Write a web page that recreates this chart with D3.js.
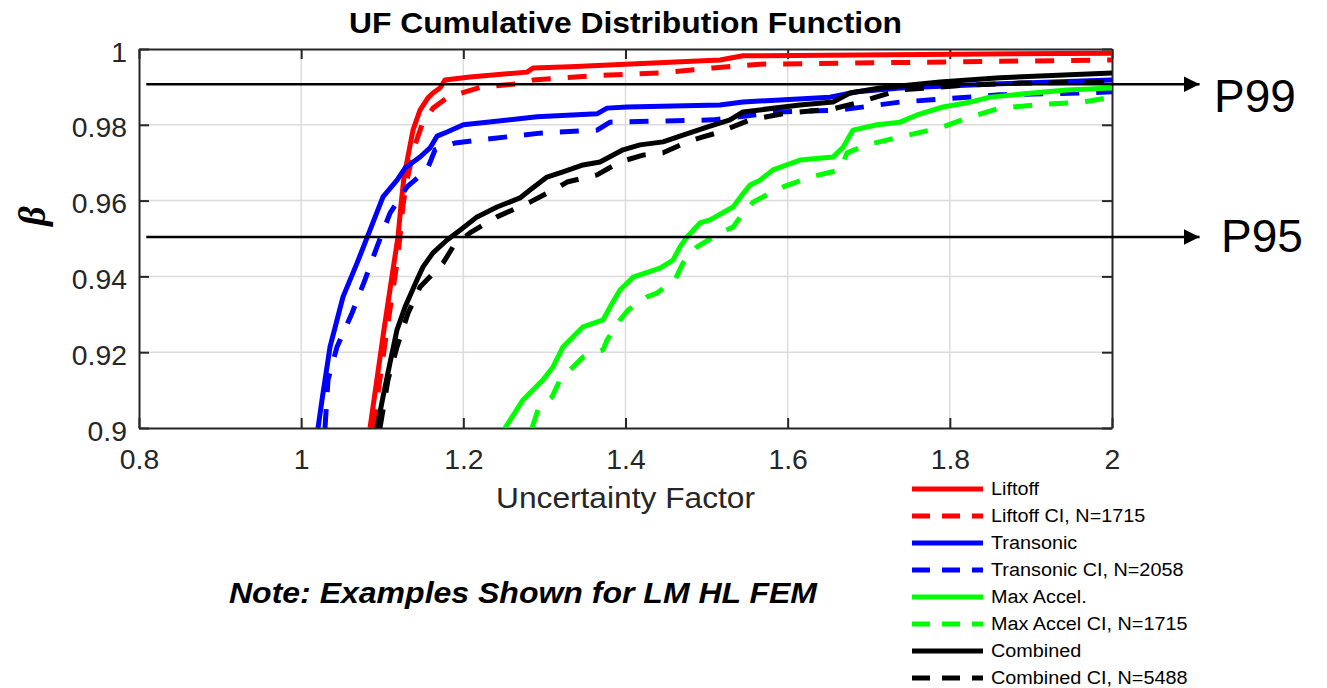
<!DOCTYPE html>
<html>
<head>
<meta charset="utf-8">
<script src="https://cdn.jsdelivr.net/npm/d3@7"></script>
<style>
  html, body { margin: 0; padding: 0; background: #fff; }
  svg { display: block; font-family: "Liberation Sans", Arial, sans-serif; }
</style>
</head>
<body>
<svg id="chart" width="1327" height="688"></svg>
<script>
// Axis ticks
const xTicks = [0.8, 1, 1.2, 1.4, 1.6, 1.8, 2];
const xTickLabels = ["0.8", "1", "1.2", "1.4", "1.6", "1.8", "2"];
const yTicks = [0.9, 0.92, 0.94, 0.96, 0.98, 1];
const yTickLabels = ["0.9", "0.92", "0.94", "0.96", "0.98", "1"];

// Empirical CDF curves: [uncertainty factor, beta]
const liftoff = [[1.0849,0.9],[1.1021,0.9259],[1.1132,0.9417],[1.1194,0.9504],[1.1231,0.9588],[1.1268,0.9662],[1.1379,0.9786],[1.1466,0.9839],[1.1564,0.9871],[1.1626,0.9884],[1.1712,0.9897],[1.1774,0.9918],[1.2082,0.9926],[1.2786,0.9939],[1.2859,0.9950],[1.3316,0.9953],[1.5165,0.9971],[1.5449,0.9982],[2.0,0.9989]];
const liftoffCI = [[1.0886,0.9],[1.1058,0.9259],[1.1169,0.9417],[1.1219,0.9504],[1.1256,0.9588],[1.1305,0.9654],[1.1404,0.9747],[1.1490,0.9800],[1.1626,0.9844],[1.1799,0.9871],[1.1984,0.9884],[1.2231,0.9900],[1.2662,0.9908],[1.2859,0.9918],[1.3562,0.9929],[1.4426,0.9937],[1.5079,0.9950],[1.5659,0.9960],[2.0,0.9971]];
const transonic = [[1.0208,0.9],[1.0257,0.9074],[1.0356,0.9214],[1.0516,0.9346],[1.0689,0.9435],[1.0849,0.9522],[1.1009,0.9610],[1.1182,0.9654],[1.1281,0.9686],[1.1466,0.9715],[1.1589,0.9739],[1.1675,0.9770],[1.1799,0.9781],[1.2,0.9800],[1.2292,0.9807],[1.2909,0.9821],[1.3649,0.9829],[1.3772,0.9844],[1.4019,0.9847],[1.5165,0.9852],[1.5449,0.9860],[1.6522,0.9873],[1.6855,0.9887],[1.7386,0.9897],[1.8619,0.9908],[2.0,0.9918]];
const transonicCI = [[1.0294,0.9],[1.0331,0.9127],[1.0442,0.9214],[1.0627,0.9303],[1.0787,0.9391],[1.0935,0.9478],[1.1096,0.9567],[1.1305,0.9636],[1.1552,0.9681],[1.1651,0.9734],[1.1897,0.9752],[1.2329,0.9763],[1.2946,0.9778],[1.3649,0.9786],[1.3710,0.9794],[1.3809,0.9807],[1.5079,0.9813],[1.5906,0.9834],[1.6646,0.9839],[1.7386,0.9860],[1.8619,0.9879],[1.9606,0.9884],[2.0,0.9887]];
const maxAccel = [[1.2514,0.9],[1.2736,0.9074],[1.2983,0.9127],[1.3106,0.9161],[1.3229,0.9214],[1.3476,0.9267],[1.3723,0.9285],[1.3809,0.9319],[1.3932,0.9364],[1.4093,0.9398],[1.4426,0.9422],[1.4586,0.9443],[1.4672,0.9478],[1.4759,0.9504],[1.4919,0.9541],[1.5042,0.9549],[1.5326,0.9583],[1.5437,0.9615],[1.5536,0.9641],[1.5659,0.9654],[1.5819,0.9681],[1.6152,0.9707],[1.6559,0.9715],[1.6683,0.9741],[1.6806,0.9786],[1.7102,0.9800],[1.7386,0.9807],[1.7595,0.9826],[1.7916,0.9847],[1.8212,0.9858],[1.8496,0.9873],[1.9026,0.9884],[1.9445,0.9892],[2.0,0.9897]];
const maxAccelCI = [[1.2847,0.9],[1.2921,0.9048],[1.3094,0.9082],[1.3192,0.9127],[1.3353,0.9161],[1.3476,0.9187],[1.3723,0.9206],[1.3772,0.9232],[1.3932,0.9285],[1.4031,0.9311],[1.4265,0.9346],[1.4389,0.9356],[1.4611,0.9391],[1.4709,0.9435],[1.4882,0.9478],[1.5165,0.9515],[1.5326,0.9530],[1.5449,0.9567],[1.5573,0.9596],[1.5782,0.9620],[1.5943,0.9636],[1.6276,0.9662],[1.6646,0.9681],[1.6732,0.9726],[1.6979,0.9747],[1.7386,0.9768],[1.7879,0.9792],[1.8212,0.9818],[1.8619,0.9844],[1.9026,0.9852],[1.9643,0.9860],[2.0,0.9873]];
const combined = [[1.0935,0.9],[1.1009,0.9082],[1.1096,0.9172],[1.1182,0.9259],[1.1281,0.9319],[1.1429,0.9391],[1.1503,0.9425],[1.1626,0.9462],[1.1799,0.9496],[1.1959,0.9522],[1.2169,0.9557],[1.2415,0.9583],[1.2699,0.9607],[1.2822,0.9628],[1.3032,0.9662],[1.3229,0.9676],[1.3476,0.9694],[1.3686,0.9702],[1.3969,0.9734],[1.4179,0.9747],[1.4463,0.9755],[1.4709,0.9773],[1.5005,0.9794],[1.5289,0.9813],[1.5449,0.9834],[1.6152,0.9852],[1.6559,0.9860],[1.6769,0.9884],[1.7139,0.9897],[1.7879,0.9913],[1.8619,0.9924],[2.0,0.9937]];
const combinedCI = [[1.0972,0.9],[1.1071,0.9127],[1.1182,0.9214],[1.1318,0.9303],[1.1466,0.9372],[1.1552,0.9391],[1.1749,0.9435],[1.1873,0.9478],[1.2082,0.9515],[1.2415,0.9557],[1.2822,0.9596],[1.3155,0.9633],[1.3279,0.9649],[1.3649,0.9668],[1.3932,0.9702],[1.4216,0.9720],[1.4463,0.9726],[1.4759,0.9755],[1.4956,0.9768],[1.5165,0.9781],[1.5536,0.9813],[1.5992,0.9831],[1.6559,0.9842],[1.6892,0.9860],[1.7386,0.9892],[1.8212,0.9905],[1.8866,0.9910],[2.0,0.9913]];

const seriesNames = ["Liftoff", "Liftoff CI, N=1715", "Transonic", "Transonic CI, N=2058",
                     "Max Accel.", "Max Accel CI, N=1715", "Combined", "Combined CI, N=5488"];
const seriesData = [liftoff, liftoffCI, transonic, transonicCI, maxAccel, maxAccelCI, combined, combinedCI];

// Percentile reference arrows: [beta level, label]
const percentileLevels = [0.9907, 0.9504];
const percentileLabels = ["P99", "P95"];
const arrowStartUF = 0.809;
const arrowEndUF = 2.108;

// ---- drawing ----
const colors = ["#ff0000", "#ff0000", "#0000ff", "#0000ff", "#00ff00", "#00ff00", "#000000", "#000000"];
const dashed = [false, true, false, true, false, true, false, true];
const axisColor = "#262626";

const svg = d3.select("#chart");
const plot = { left: 139, top: 49, width: 973, height: 379 };

const x = d3.scaleLinear().domain([0.8, 2]).range([plot.left, plot.left + plot.width]);
const y = d3.scaleLinear().domain([0.9, 1]).range([plot.top + plot.height, plot.top]);

function stretch(sel, k) {
  sel.each(function () {
    const w = this.getComputedTextLength();
    this.setAttribute("textLength", w * k);
    this.setAttribute("lengthAdjust", "spacingAndGlyphs");
  });
}

svg.append("defs").append("clipPath").attr("id", "plotClip")
  .append("rect")
  .attr("x", plot.left).attr("y", plot.top)
  .attr("width", plot.width).attr("height", plot.height);

svg.append("defs").append("marker")
  .attr("id", "arrowHead")
  .attr("viewBox", "0 0 16 16")
  .attr("refX", 16).attr("refY", 8)
  .attr("markerUnits", "userSpaceOnUse")
  .attr("markerWidth", 16).attr("markerHeight", 16)
  .attr("orient", "auto")
  .append("path").attr("d", "M0,0 L16,8 L0,16 Z").attr("fill", "#000");

// Grid
const grid = svg.append("g");
grid.selectAll("line.gx").data(xTicks.slice(1, -1)).join("line")
  .attr("x1", d => x(d)).attr("x2", d => x(d))
  .attr("y1", plot.top).attr("y2", plot.top + plot.height)
  .attr("stroke", "#dcdcdc").attr("stroke-width", 1.5);
grid.selectAll("line.gy").data(yTicks.slice(1, -1)).join("line")
  .attr("y1", d => y(d)).attr("y2", d => y(d))
  .attr("x1", plot.left).attr("x2", plot.left + plot.width)
  .attr("stroke", "#dcdcdc").attr("stroke-width", 1.5);

// Axes with inward ticks on all four sides
const tickLen = 10;
const axB = svg.append("g").attr("transform", `translate(0,${plot.top + plot.height})`)
  .call(d3.axisBottom(x).tickValues(xTicks).tickSize(-tickLen).tickSizeOuter(0).tickFormat((d, i) => xTickLabels[i]));
const axT = svg.append("g").attr("transform", `translate(0,${plot.top})`)
  .call(d3.axisTop(x).tickValues(xTicks).tickSize(-tickLen).tickSizeOuter(0).tickFormat(""));
const axL = svg.append("g").attr("transform", `translate(${plot.left},0)`)
  .call(d3.axisLeft(y).tickValues(yTicks).tickSize(-tickLen).tickSizeOuter(0).tickFormat((d, i) => yTickLabels[i]));
const axR = svg.append("g").attr("transform", `translate(${plot.left + plot.width},0)`)
  .call(d3.axisRight(y).tickValues(yTicks).tickSize(-tickLen).tickSizeOuter(0).tickFormat(""));

[axB, axT, axL, axR].forEach(a => {
  a.select(".domain").attr("stroke", axisColor).attr("stroke-width", 2);
  a.selectAll(".tick line").attr("stroke", axisColor).attr("stroke-width", 2);
});
axB.selectAll(".tick text")
  .attr("fill", axisColor).attr("font-size", 27).attr("font-family", "Liberation Sans, Arial, sans-serif")
  .attr("y", 22).attr("dy", "0.71em");
axL.selectAll(".tick text")
  .attr("fill", axisColor).attr("font-size", 27).attr("font-family", "Liberation Sans, Arial, sans-serif")
  .attr("x", -12).attr("dy", "0.45em");
stretch(axB.selectAll(".tick text"), 1.05);
stretch(axL.selectAll(".tick text"), 1.05);

// Curves
const line = d3.line().x(d => x(d[0])).y(d => y(d[1]));
const curves = svg.append("g").attr("clip-path", "url(#plotClip)");
seriesData.forEach((s, i) => {
  curves.append("path")
    .datum(s)
    .attr("d", line)
    .attr("fill", "none")
    .attr("stroke", colors[i])
    .attr("stroke-width", 5)
    .attr("stroke-linejoin", "round")
    .attr("stroke-dasharray", dashed[i] ? "19,17" : null);
});

// Percentile arrows
const arrows = svg.append("g");
percentileLevels.forEach((lvl, i) => {
  arrows.append("line")
    .attr("x1", x(arrowStartUF)).attr("x2", x(arrowEndUF))
    .attr("y1", y(lvl)).attr("y2", y(lvl))
    .attr("stroke", "#000").attr("stroke-width", 2.5)
    .attr("marker-end", "url(#arrowHead)");
});
arrows.append("text").attr("x", 1214).attr("y", 112)
  .attr("font-size", 46).attr("fill", "#000").text(percentileLabels[0]);
arrows.append("text").attr("x", 1221).attr("y", 252)
  .attr("font-size", 46).attr("fill", "#000").text(percentileLabels[1]);

// Title and axis labels
svg.append("text")
  .attr("x", plot.left + plot.width / 2).attr("y", 33)
  .attr("text-anchor", "middle").attr("font-weight", "bold").attr("font-size", 30)
  .attr("fill", "#000")
  .attr("textLength", 553).attr("lengthAdjust", "spacingAndGlyphs")
  .text("UF Cumulative Distribution Function");

svg.append("text")
  .attr("x", plot.left + plot.width / 2).attr("y", 508)
  .attr("text-anchor", "middle").attr("font-size", 29)
  .attr("fill", axisColor)
  .attr("textLength", 259).attr("lengthAdjust", "spacingAndGlyphs")
  .text("Uncertainty Factor");

svg.append("text")
  .attr("transform", "translate(45,216) rotate(-90)")
  .attr("text-anchor", "middle")
  .attr("font-family", "Liberation Serif, Times New Roman, serif")
  .attr("font-style", "italic").attr("font-weight", "bold").attr("font-size", 38)
  .attr("fill", "#000")
  .text("β");

// Note
svg.append("text")
  .attr("x", 229).attr("y", 603)
  .attr("font-size", 29).attr("font-weight", "bold").attr("font-style", "italic")
  .attr("fill", "#000")
  .attr("textLength", 588).attr("lengthAdjust", "spacingAndGlyphs")
  .text("Note: Examples Shown for LM HL FEM");

// Legend
const legend = svg.append("g");
const legRow0 = 489, legStep = 27;
seriesNames.forEach((name, i) => {
  const yy = legRow0 + i * legStep;
  legend.append("line")
    .attr("x1", 912).attr("x2", 983).attr("y1", yy).attr("y2", yy)
    .attr("stroke", colors[i]).attr("stroke-width", 5)
    .attr("stroke-dasharray", dashed[i] ? "18,12" : null);
  legend.append("text")
    .attr("x", 991).attr("y", yy).attr("dy", "0.36em")
    .attr("font-size", 18).attr("fill", "#000")
    .text(name);
});
stretch(legend.selectAll("text"), 1.1);
</script>
</body>
</html>
